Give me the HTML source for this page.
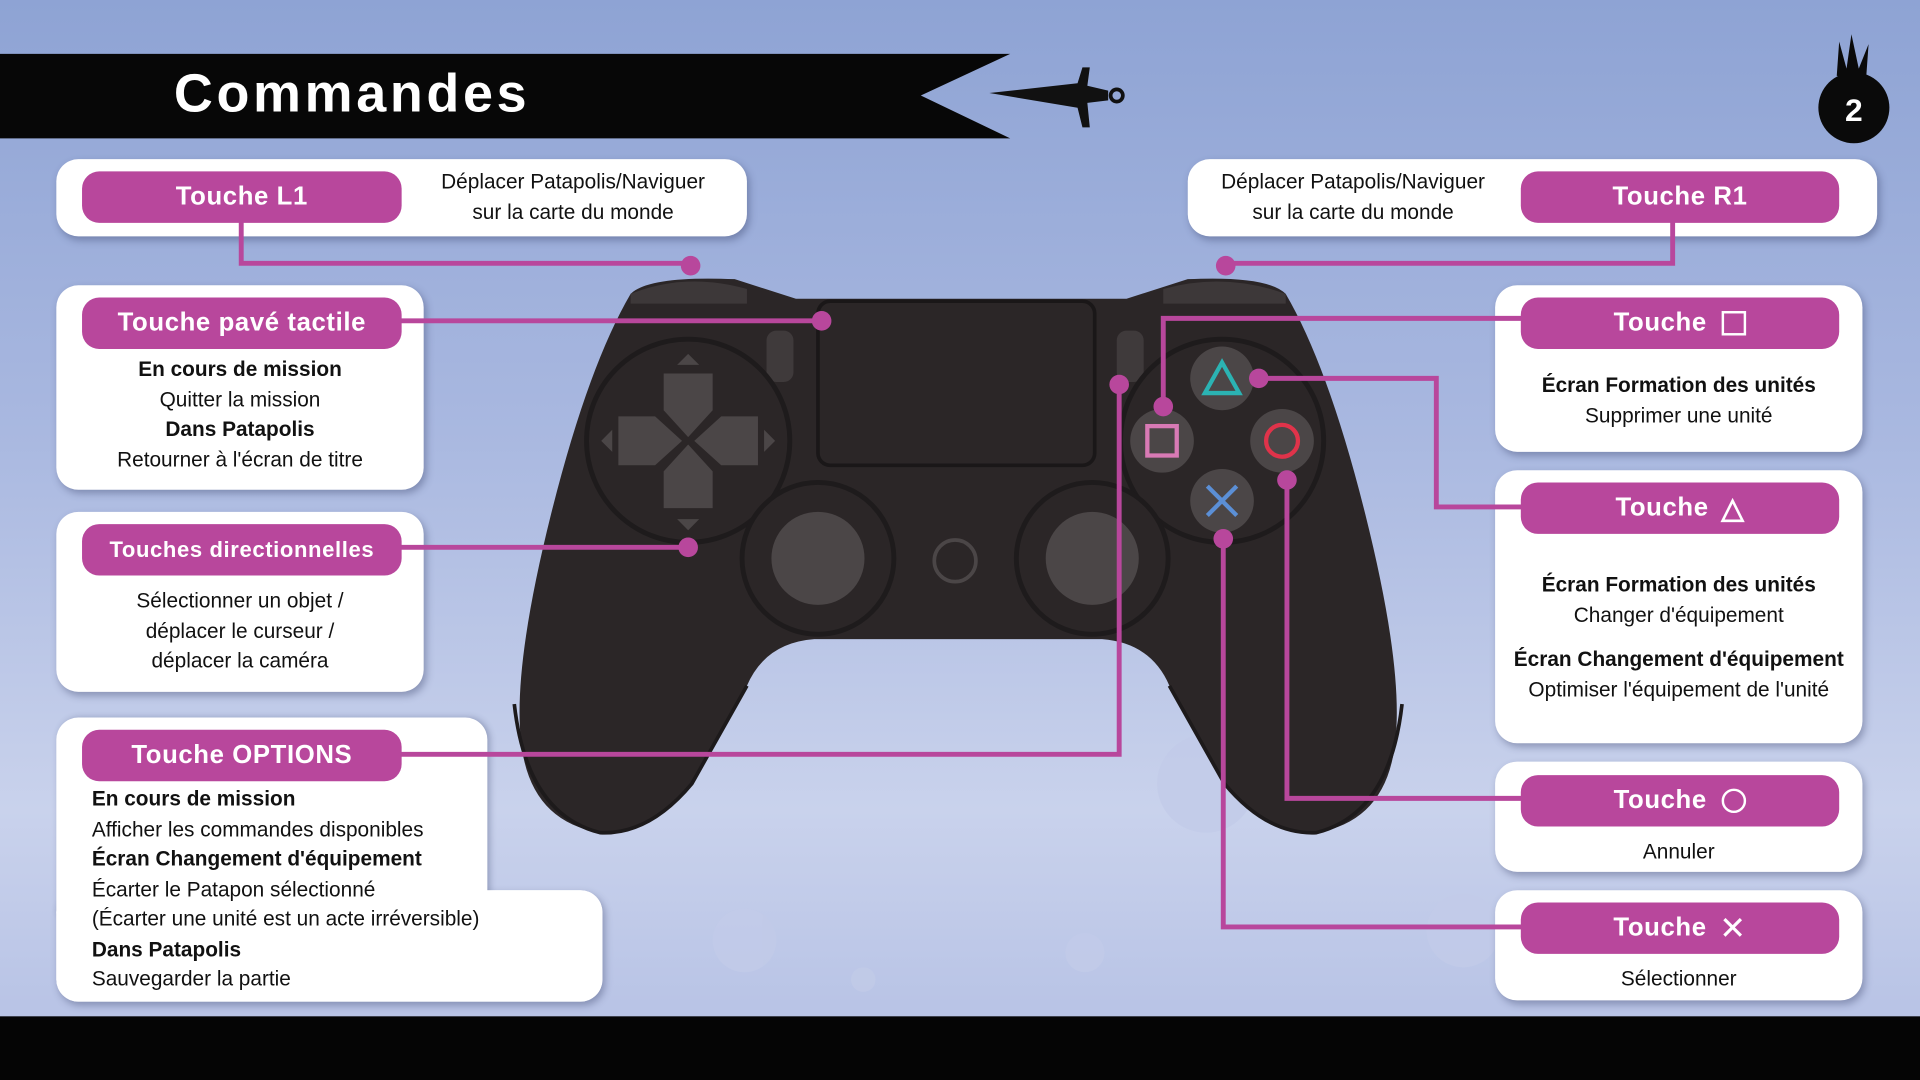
<!DOCTYPE html>
<html><head><meta charset="utf-8"><style>
html,body{margin:0;padding:0;width:1920px;height:1080px;overflow:hidden;background:#000}
#s{position:absolute;left:0;top:0;width:1568px;height:882px;transform:scale(1.22449);transform-origin:0 0;font-family:"Liberation Sans",sans-serif;
background:linear-gradient(180deg,#8ea3d4 0%,#a9b8e0 40%,#c9d2ec 75%,#b9c4e6 93%);overflow:hidden}
.bot{position:absolute;left:0;top:830px;width:1568px;height:52px;background:#050505}
.box{position:absolute;background:#fff;border-radius:18px;box-shadow:2px 3px 6px rgba(40,50,90,.35)}
.pill{position:absolute;background:#b8479c;color:#fff;border-radius:14px;font-weight:bold;font-size:21px;display:flex;align-items:center;justify-content:center;letter-spacing:.5px;z-index:3}
.t{position:absolute;font-size:17px;color:#111;text-align:center;line-height:24.5px;z-index:3}
.t b{font-weight:bold}
.title{position:absolute;left:142px;top:52px;color:#fff;font-weight:bold;font-size:44px;letter-spacing:3px}
.ov{position:absolute;left:0;top:0;z-index:2}
</style></head><body><div id="s">
<svg width="1568" height="882" style="position:absolute;left:0;top:0">
<polygon points="0,44 825,44 752,78 825,113 0,113" fill="#070707"/>
<g fill="#111"><path d="M808,76 L880,68 L884,55 L890,55 L888,70 L905,74 L905,82 L888,84 L890,104 L884,104 L880,88 Z"/><circle cx="912" cy="78" r="5" fill="none" stroke="#111" stroke-width="3"/></g>
<circle cx="1514" cy="88" r="29" fill="#0a0a0a"/>
<path d="M1500,62 L1502,34 L1508,56 L1512,28 L1518,56 L1526,36 L1524,64Z" fill="#0a0a0a"/>
<text x="1514" y="99" fill="#fff" font-size="26" font-weight="bold" text-anchor="middle" font-family="Liberation Sans">2</text>
<g fill="#c2cbe8" opacity=".8"><circle cx="608" cy="768" r="26"/><circle cx="886" cy="778" r="16"/><circle cx="705" cy="800" r="10"/><circle cx="985" cy="640" r="40"/><circle cx="1195" cy="760" r="30"/></g>
<path d="M515,240 Q530,225 600,228 L650,244 L920,244 L970,228 Q1035,225 1050,240 Q1085,300 1115,420 Q1145,540 1140,600 Q1135,670 1075,680 Q1035,682 1000,640 L955,560 Q940,525 900,522 L665,522 Q625,525 610,560 L565,640 Q530,682 490,680 Q430,670 425,600 Q420,540 450,420 Q480,300 515,240Z" fill="#2b2627"/>
<path d="M420,575 Q430,665 490,680 Q530,682 565,640 L610,560" fill="none" stroke="#1d1a1b" stroke-width="3"/>
<path d="M1145,575 Q1135,665 1075,680 Q1035,682 1000,640 L955,560" fill="none" stroke="#1d1a1b" stroke-width="3"/>
<path d="M515,240 Q560,222 610,236 L610,248 L515,248Z" fill="#3d3839"/>
<path d="M950,236 Q1000,222 1050,240 L1050,248 L950,248Z" fill="#3d3839"/>
<rect x="668" y="246" width="226" height="134" rx="10" fill="#2b2627" stroke="#1a1718" stroke-width="3"/>
<rect x="626" y="270" width="22" height="42" rx="8" fill="#3f3a3b"/>
<rect x="912" y="270" width="22" height="42" rx="8" fill="#3f3a3b"/>
<circle cx="562" cy="360" r="83" fill="#2b2627" stroke="#1e1b1c" stroke-width="4"/>
<g fill="#4b4647"><path d="M542,305 h40 v30 l-20,22 l-20,-22z"/><path d="M542,415 h40 v-30 l-20,-22 l-20,22z"/><path d="M505,340 v40 h30 l22,-20 l-22,-20z"/><path d="M619,340 v40 h-30 l-22,-20 l22,-20z"/></g>
<g fill="#4b4647"><path d="M553,298 l9,-9 l9,9z"/><path d="M553,424 l9,9 l9,-9z"/><path d="M500,351 l-9,9 l9,9z"/><path d="M624,351 l9,9 l-9,9z"/></g>
<circle cx="998" cy="360" r="83" fill="#2b2627" stroke="#1e1b1c" stroke-width="4"/>
<circle cx="998" cy="309" r="26" fill="#4b4647"/><circle cx="949" cy="360" r="26" fill="#4b4647"/><circle cx="1047" cy="360" r="26" fill="#4b4647"/><circle cx="998" cy="409" r="26" fill="#4b4647"/>
<path d="M984,321 L998,296 L1012,321Z" fill="none" stroke="#2bb3b3" stroke-width="3.5"/>
<rect x="937" y="348" width="24" height="24" fill="none" stroke="#d87ab5" stroke-width="3.5"/>
<circle cx="1047" cy="360" r="13" fill="none" stroke="#e0334a" stroke-width="3.5"/>
<path d="M986,397 L1010,421 M1010,397 L986,421" stroke="#5b8fd6" stroke-width="3.5"/>
<circle cx="668" cy="456" r="62" fill="#2b2627" stroke="#1e1b1c" stroke-width="4"/><circle cx="668" cy="456" r="38" fill="#4b4647"/>
<circle cx="892" cy="456" r="62" fill="#2b2627" stroke="#1e1b1c" stroke-width="4"/><circle cx="892" cy="456" r="38" fill="#4b4647"/>
<circle cx="780" cy="458" r="17" fill="none" stroke="#4b4647" stroke-width="3"/>
</svg>
<div class="title">Commandes</div>

<div class="box" style="left:46px;top:130px;width:564px;height:63px"></div>
<div class="pill" style="left:67px;top:140px;width:261px;height:42px">Touche L1</div>
<div class="t" style="left:330px;top:137px;width:276px">Déplacer Patapolis/Naviguer<br>sur la carte du monde</div>

<div class="box" style="left:970px;top:130px;width:563px;height:63px"></div>
<div class="pill" style="left:1242px;top:140px;width:260px;height:42px">Touche R1</div>
<div class="t" style="left:968px;top:137px;width:274px">Déplacer Patapolis/Naviguer<br>sur la carte du monde</div>

<div class="box" style="left:46px;top:233px;width:300px;height:167px"></div>
<div class="pill" style="left:67px;top:243px;width:261px;height:42px">Touche pavé tactile</div>
<div class="t" style="left:46px;top:290px;width:300px"><b>En cours de mission</b><br>Quitter la mission<br><b>Dans Patapolis</b><br>Retourner à l'écran de titre</div>

<div class="box" style="left:46px;top:418px;width:300px;height:147px"></div>
<div class="pill" style="left:67px;top:428px;width:261px;height:42px;font-size:18px">Touches directionnelles</div>
<div class="t" style="left:46px;top:479px;width:300px">Sélectionner un objet /<br>déplacer le curseur /<br>déplacer la caméra</div>

<div class="box" style="left:46px;top:727px;width:446px;height:91px"></div>
<div class="box" style="left:46px;top:586px;width:352px;height:160px;border-radius:18px 18px 0 0;box-shadow:2px 0 5px rgba(40,50,90,.3)"></div>
<div class="box" style="left:46px;top:727px;width:446px;height:91px;box-shadow:none"></div>
<div class="pill" style="left:67px;top:596px;width:261px;height:42px">Touche OPTIONS</div>
<div class="t" style="left:75px;top:641px;width:420px;text-align:left"><b>En cours de mission</b><br>Afficher les commandes disponibles<br><b>Écran Changement d'équipement</b><br>Écarter le Patapon sélectionné<br>(Écarter une unité est un acte irréversible)<br><b>Dans Patapolis</b><br>Sauvegarder la partie</div>

<div class="box" style="left:1221px;top:233px;width:300px;height:136px"></div>
<div class="pill" style="left:1242px;top:243px;width:260px;height:42px">Touche&nbsp;<span style="display:inline-block;width:16px;height:16px;border:2.5px solid #fff;margin-left:6px"></span></div>
<div class="t" style="left:1221px;top:303px;width:300px"><b>Écran Formation des unités</b><br>Supprimer une unité</div>

<div class="box" style="left:1221px;top:384px;width:300px;height:223px"></div>
<div class="pill" style="left:1242px;top:394px;width:260px;height:42px">Touche&nbsp;<span style="font-size:24px;margin-left:4px">△</span></div>
<div class="t" style="left:1221px;top:466px;width:300px"><b>Écran Formation des unités</b><br>Changer d'équipement</div>
<div class="t" style="left:1216px;top:527px;width:310px"><b>Écran Changement d'équipement</b><br>Optimiser l'équipement de l'unité</div>

<div class="box" style="left:1221px;top:622px;width:300px;height:90px"></div>
<div class="pill" style="left:1242px;top:633px;width:260px;height:42px">Touche&nbsp;<span style="display:inline-block;width:16px;height:16px;border:2.5px solid #fff;border-radius:50%;margin-left:6px"></span></div>
<div class="t" style="left:1221px;top:684px;width:300px">Annuler</div>

<div class="box" style="left:1221px;top:727px;width:300px;height:90px"></div>
<div class="pill" style="left:1242px;top:737px;width:260px;height:42px">Touche&nbsp;<span style="font-size:26px;margin-left:4px;font-weight:normal">✕</span></div>
<div class="t" style="left:1221px;top:788px;width:300px">Sélectionner</div>

<svg class="ov" width="1568" height="882">
<g fill="none" stroke="#b8479c" stroke-width="4">
<path d="M197,180 V215 H564"/><path d="M1366,180 V215 H1001"/>
<path d="M326,262 H671"/><path d="M326,447 H562"/>
<path d="M326,616 H914 V314"/><path d="M1244,260 H950 V332"/>
<path d="M1028,309 H1173 V414 H1244"/><path d="M1051,392 V652 H1244"/>
<path d="M999,440 V757 H1244"/></g>
<g fill="#b8479c"><circle cx="564" cy="217" r="8"/><circle cx="1001" cy="217" r="8"/><circle cx="671" cy="262" r="8"/><circle cx="562" cy="447" r="8"/><circle cx="914" cy="314" r="8"/><circle cx="950" cy="332" r="8"/><circle cx="1028" cy="309" r="8"/><circle cx="1051" cy="392" r="8"/><circle cx="999" cy="440" r="8"/></g>
</svg>

<div class="bot"></div>
</div></body></html>
